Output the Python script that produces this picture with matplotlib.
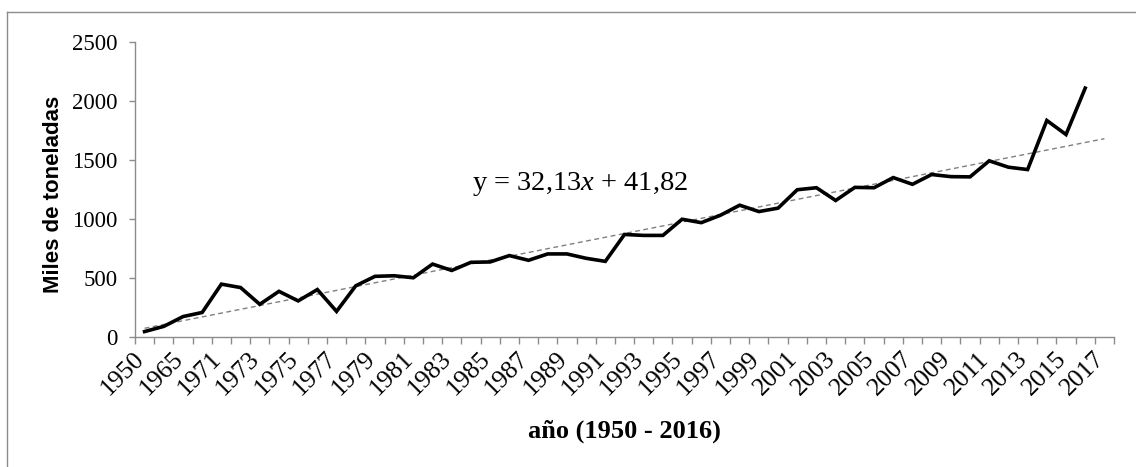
import matplotlib
matplotlib.use("Agg")
import matplotlib.pyplot as plt
from matplotlib.lines import Line2D
import matplotlib.transforms as mtransforms
import numpy as np

# ---- data ----
years = ["1950", "1960", "1965", "1970"] + [str(y) for y in range(1971, 2018)]
values = [46, 90, 173, 208, 448, 419, 277, 387, 306, 402, 217, 434, 514,
          519, 502, 618, 564, 633, 636, 690, 650, 704, 704, 667, 641,
          869, 861, 861, 998, 969, 1032, 1117, 1063, 1092, 1248, 1265, 1157,
          1268, 1265, 1351, 1294, 1377, 1359, 1357, 1493, 1439, 1419,
          1835, 1716, 2109]  # 1950..2016 (2017 has no data)
slope = 32.13
intercept = 41.82
equation = "y = 32,13$\\mathit{x}$ + 41,82"
y_ticks = [0, 500, 1000, 1500, 2000, 2500]
y_label = "Miles de toneladas"
x_label = "año (1950 - 2016)"

plt.rcParams['mathtext.fontset'] = 'custom'
plt.rcParams['mathtext.rm'] = 'Liberation Serif'
plt.rcParams['mathtext.it'] = 'Liberation Serif:italic'

W, H = 1136, 467
fig = plt.figure(figsize=(W / 100, H / 100), dpi=100)
fig.patch.set_facecolor("white")

left, right, top, bottom = 135, 1114, 42, 337
ax = fig.add_axes([left / W, 1 - bottom / H, (right - left) / W, (bottom - top) / H])

n = len(years)
xi = np.arange(len(values))
ax.plot(xi, values, color="black", lw=2.6, solid_joinstyle="miter", zorder=3)

xt = np.arange(n)
trend = slope * (xt + 1) + intercept
ax.plot(xt, trend, color="#808080", lw=1.0, ls=(0, (3.5, 2.5)), zorder=2)

ax.set_xlim(-0.5, n - 0.5)
ax.set_ylim(0, 2500)

spine_c = "#8c8c8c"
for s in ["top", "right"]:
    ax.spines[s].set_visible(False)
for s in ["left", "bottom"]:
    ax.spines[s].set_color(spine_c)
    ax.spines[s].set_linewidth(1.0)

ax.set_yticks(y_ticks)
ax.set_yticklabels([str(v) for v in y_ticks], family="Liberation Serif", fontsize=16.5)
ax.tick_params(axis="y", length=4.5, width=1.0, color=spine_c, pad=8, direction="out")

ax.set_xticks(xt)
ax.set_xticklabels([y if i % 2 == 0 else "" for i, y in enumerate(years)],
                   family="Liberation Serif", fontsize=18.5)
ax.set_xticks(np.arange(n + 1) - 0.5, minor=True)
ax.tick_params(axis="x", which="major", length=0, pad=13.5)
ax.tick_params(axis="x", which="minor", length=5, width=1.0, color=spine_c, direction="out")
offset = mtransforms.ScaledTranslation(-3.5 / 100, 0, fig.dpi_scale_trans)
for lbl in ax.get_xticklabels():
    lbl.set_rotation(45)
    lbl.set_ha("right")
    lbl.set_va("center")
    lbl.set_rotation_mode("anchor")
    lbl.set_transform(lbl.get_transform() + offset)

fig.text(472 / W, 1 - 190 / H, equation, family="Liberation Serif", fontsize=20.5,
         ha="left", va="baseline")

fig.text(53.5 / W, 1 - 194 / H, y_label, family="Liberation Sans", fontweight="bold",
         fontsize=16, rotation=90, ha="center", va="center")
fig.text(624.5 / W, 1 - 431 / H, x_label, family="Liberation Serif", fontweight="bold",
         fontsize=19, ha="center", va="center")

# outer frame (left and top edges)
fig.add_artist(Line2D([7 / W, 7 / W], [0, 1 - 12 / H], transform=fig.transFigure,
                      color=spine_c, lw=1.0))
fig.add_artist(Line2D([7 / W, 1], [1 - 12 / H, 1 - 12 / H], transform=fig.transFigure,
                      color=spine_c, lw=1.0))

fig.savefig("out.png", dpi=100, facecolor="white")
